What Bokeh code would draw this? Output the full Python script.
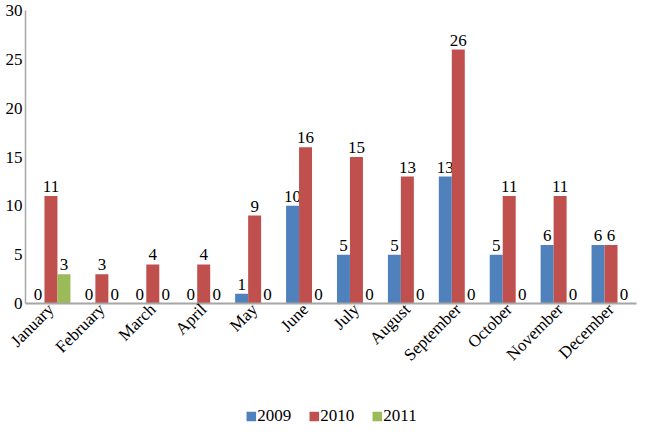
import math
from bokeh.plotting import figure
from bokeh.layouts import column
from bokeh.models import ColumnDataSource, Range1d, Legend, LegendItem, FixedTicker
from bokeh.transform import dodge
from bokeh.core.properties import value
from bokeh.embed import file_html
from bokeh.resources import INLINE

months = ["January", "February", "March", "April", "May", "June", "July",
          "August", "September", "October", "November", "December"]
v2009 = [0, 0, 0, 0, 1, 10, 5, 5, 13, 5, 6, 6]
v2010 = [11, 3, 4, 4, 9, 16, 15, 13, 26, 11, 11, 6]
v2011 = [3, 0, 0, 0, 0, 0, 0, 0, 0, 0, 0, 0]
series_names = ["2009", "2010", "2011"]
colors = ["#4F81BD", "#C0504D", "#9BBB59"]
y_ticks = [0, 5, 10, 15, 20, 25, 30]

source = ColumnDataSource(dict(
    months=months,
    y2009=v2009, y2010=v2010, y2011=v2011,
    t2009=[str(v) for v in v2009],
    t2010=[str(v) for v in v2010],
    t2011=[str(v) for v in v2011],
))

FONT = "Liberation Serif"

p = figure(x_range=months, y_range=Range1d(0, 30),
           frame_width=611, frame_height=293,
           output_backend="svg", toolbar_location=None,
           min_border_left=25, min_border_right=3, min_border_top=10, min_border_bottom=0)
p.x_range.range_padding = 0
p.outline_line_color = None
p.xgrid.grid_line_color = None
p.ygrid.grid_line_color = None
p.background_fill_color = "white"
p.border_fill_color = "white"

bw = 0.255
offsets = [-bw, 0, bw]
keys = ["2009", "2010", "2011"]
for off, k, c in zip(offsets, keys, colors):
    p.vbar(x=dodge("months", off, range=p.x_range), top="y" + k, width=bw,
           source=source, fill_color=c, line_color=None)
    p.text(x=dodge("months", off, range=p.x_range), y="y" + k, text="t" + k,
           source=source, text_align="center", text_baseline="bottom",
           y_offset=-4, text_font=value(FONT), text_font_size="17px",
           text_color="black")

# axes
p.yaxis.ticker = FixedTicker(ticks=y_ticks)
p.yaxis.axis_line_color = "#a6a6a6"
p.yaxis.axis_line_width = 1.5
p.yaxis.major_tick_line_color = None
p.yaxis.minor_tick_line_color = None
p.yaxis.major_tick_out = 0
p.yaxis.major_tick_in = 0
p.yaxis.minor_tick_out = 0
p.yaxis.major_label_text_font = FONT
p.yaxis.major_label_text_font_size = "17px"
p.yaxis.major_label_text_color = "black"
p.yaxis.major_label_standoff = 3

p.xaxis.axis_line_color = "#a6a6a6"
p.xaxis.axis_line_width = 2
p.xaxis.major_tick_line_color = None
p.xaxis.minor_tick_line_color = None
p.xaxis.major_tick_out = 0
p.xaxis.major_tick_in = 0
p.xaxis.minor_tick_out = 0
p.xaxis.major_label_orientation = math.pi / 4
p.xaxis.major_label_text_font = FONT
p.xaxis.major_label_text_font_size = "17px"
p.xaxis.major_label_text_color = "black"
p.xaxis.major_label_standoff = 3

# legend in its own strip below the chart; swatch proxies carry no drawable value
lg = figure(width=639, height=24, x_range=p.x_range, y_range=Range1d(0, 1),
            output_backend="svg", toolbar_location=None,
            x_axis_type=None, y_axis_type=None,
            min_border=0, min_border_left=0, min_border_right=0,
            min_border_top=0, min_border_bottom=0,
            margin=(30, 0, 0, 0))
lg.outline_line_color = None
lg.xgrid.grid_line_color = None
lg.ygrid.grid_line_color = None
lg.background_fill_alpha = 0
lg.border_fill_alpha = 0
proxy_src = ColumnDataSource(dict(x=[months[0]], top=[float("nan")]))
proxies = [lg.vbar(x="x", top="top", width=bw, source=proxy_src,
                   fill_color=c, line_color=None)
           for c in colors]
legend = Legend(items=[LegendItem(label=n, renderers=[r]) for n, r in zip(series_names, proxies)],
                orientation="horizontal", location="center",
                label_text_font=FONT, label_text_font_size="17px", label_text_color="black",
                glyph_width=12, glyph_height=12, label_standoff=1, spacing=16,
                border_line_color=None, background_fill_alpha=0,
                padding=2, margin=0)
lg.add_layout(legend, "center")

layout = column(p, lg, spacing=0)
open("out.html", "w").write(file_html(layout, INLINE))
